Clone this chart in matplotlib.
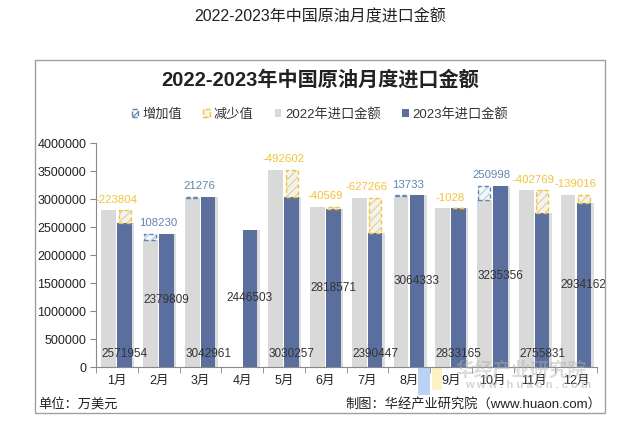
import matplotlib
matplotlib.use("Agg")
import matplotlib.pyplot as plt
from matplotlib.patches import Rectangle, Patch
import numpy as np

plt.rcParams['font.family'] = ['Liberation Sans', 'Noto Sans CJK SC', 'DejaVu Sans']
plt.rcParams['hatch.linewidth'] = 0.8

months = ['1月', '2月', '3月', '4月', '5月', '6月', '7月', '8月', '9月', '10月', '11月', '12月']
val_2022 = [2795758, 2271579, 3021685, np.nan, 3522859, 2859140, 3017713, 3050600, 2834193, 2984358, 3158600, 3073178]
val_2023 = [2571954, 2379809, 3042961, 2446503, 3030257, 2818571, 2390447, 3064333, 2833165, 3235356, 2755831, 2934162]
change = [-223804, 108230, 21276, np.nan, -492602, -40569, -627266, 13733, -1028, 250998, -402769, -139016]
yticks = [0, 500000, 1000000, 1500000, 2000000, 2500000, 3000000, 3500000, 4000000]

GRAY = '#d9d9d9'
BLUE = '#5b6f9f'
YEL = '#f2c23a'
INC = '#5f86ab'

fig = plt.figure(figsize=(6.4, 4.26), dpi=100)
fig.patch.set_facecolor('white')

# page title
fig.text(0.5, 1 - 17/426, '2022-2023年中国原油月度进口金额', ha='center', va='center',
         fontsize=11.5, color='#222222')
# frame
frame = Rectangle((35/640, 1 - 413/426), (605-35)/640, (413-60)/426, transform=fig.transFigure,
                  fill=False, edgecolor='#a0a0a0', lw=1.0)
fig.add_artist(frame)
fig.text(0.5, 1 - 80/426, '2022-2023年中国原油月度进口金额', ha='center', va='center',
         fontsize=14.5, fontweight='bold', color='#222222')

# logo shapes of the watermark
fig.add_artist(Rectangle((418/640, 1 - 395/426), 12/640, 27/426, transform=fig.transFigure,
                         facecolor='#a9c9f2', edgecolor='none', alpha=0.8, zorder=-1))
fig.add_artist(Rectangle((432/640, 1 - 390/426), 10/640, 22/426, transform=fig.transFigure,
                         facecolor='#fbf0bd', edgecolor='none', alpha=0.9, zorder=-1))

ax = fig.add_axes([96/640, 59/426, (597-96)/640, (367-143)/426])
ax.patch.set_alpha(0)
x = np.arange(len(months))
w = 0.35
xg = x - 0.195
xb = x + 0.185

# shadows
ax.bar(xb + 0.06, val_2023, width=w, color='#bdbdbd', alpha=0.5, zorder=1)
ax.bar(xg, val_2022, width=w, color=GRAY, zorder=2)
ax.bar(xb, val_2023, width=w, color=BLUE, zorder=3)

for i in range(len(months)):
    c = change[i]
    if np.isnan(c):
        continue
    if c >= 0:
        ax.bar(xg[i], c, bottom=val_2022[i], width=w * 0.82, facecolor='#f4f6f9',
               edgecolor='#b9c9da', hatch='////', lw=0, zorder=4)
        ax.bar(xg[i], c, bottom=val_2022[i], width=w * 0.82, facecolor='none',
               edgecolor=INC, linestyle=(0, (3, 2)), lw=1.0, zorder=5)
        col = INC
    else:
        ax.bar(xb[i], -c, bottom=val_2023[i], width=w * 0.82, facecolor='#f6f3e6',
               edgecolor='#d6cfb4', hatch='////', lw=0, zorder=4)
        ax.bar(xb[i], -c, bottom=val_2023[i], width=w * 0.82, facecolor='none',
               edgecolor=YEL, linestyle=(0, (3, 2)), lw=1.0, zorder=5)
        col = YEL
    top = max(val_2022[i], val_2023[i])
    ax.annotate(f'{int(c)}', (x[i] - 0.02, top), xytext=(0, 4), textcoords='offset points',
                ha='center', va='bottom', fontsize=8.2, color=col, zorder=6)

for i in range(len(months)):
    v = val_2023[i]
    yy = 230000 if i % 2 == 0 else v / 2
    ax.text(xb[i], yy, f'{v}', ha='center', va='center', fontsize=8.5, color='#333333', zorder=6)

ax.set_xlim(-0.5, len(months) - 0.5)
ax.set_ylim(0, 4000000)
ax.set_yticks(yticks)
ax.set_yticklabels([str(t) for t in yticks], fontsize=9, color='#222222')
ax.set_xticks(x)
ax.set_xticklabels(months, fontsize=9, color='#222222')
ax.set_xticks(np.arange(-0.5, len(months), 1), minor=True)
ax.tick_params(axis='x', which='major', length=0, pad=6)
ax.tick_params(axis='x', which='minor', length=4, color='#888888')
ax.tick_params(axis='y', length=4, color='#888888', pad=3)
for s in ['top', 'right']:
    ax.spines[s].set_visible(False)
for s in ['left', 'bottom']:
    ax.spines[s].set_color('#888888')

handles = [
    Patch(facecolor='#f4f6f9', edgecolor=INC, hatch='////', linestyle='--', label='增加值'),
    Patch(facecolor='#f6f3e6', edgecolor=YEL, linestyle='--', label='减少值'),
    Patch(facecolor=GRAY, edgecolor='none', label='2022年进口金额'),
    Patch(facecolor=BLUE, edgecolor='none', label='2023年进口金额'),
]
fig.legend(handles=handles, loc='center', bbox_to_anchor=(0.5, 1 - 114/426), ncol=4,
           frameon=False, fontsize=9.5, handlelength=0.5, handleheight=0.5,
           handletextpad=0.3, columnspacing=1.6, labelcolor='#333333')

# watermark
fig.text(521/640, 1 - 370/426, '华经产业研究院', ha='center', va='center', fontsize=13.5,
         color='#b0b0b0', alpha=0.45, fontweight='bold')
fig.text(528/640, 1 - 385/426, 'w w w . h u a o n . c o m', ha='center', va='center', fontsize=8,
         color='#b0b0b0', alpha=0.55, fontweight='bold')

fig.text(38/640, 1 - 404/426, '单位：万美元', ha='left', va='center', fontsize=9.5, color='#222222')
fig.text(601/640, 1 - 404/426, '制图：华经产业研究院（www.huaon.com）', ha='right', va='center',
         fontsize=9.5, color='#222222')

fig.savefig('out.png', dpi=100)
